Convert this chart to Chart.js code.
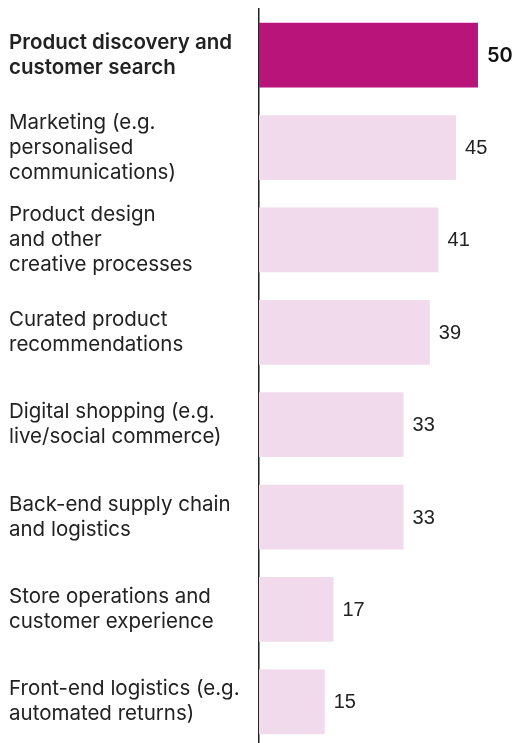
<!DOCTYPE html>
<html>
<head>
<meta charset="utf-8">
<script src="https://cdn.jsdelivr.net/npm/chart.js@4.4.1/dist/chart.umd.min.js"></script>
<style>
html,body{margin:0;padding:0;background:#fff;overflow:hidden;}
canvas{display:block;}
</style>
</head>
<body>
<canvas id="c" width="517" height="748"></canvas>
<script>
const categories = [
  ["Product discovery and", "customer search"],
  ["Marketing (e.g.", "personalised", "communications)"],
  ["Product design", "and other", "creative processes"],
  ["Curated product", "recommendations"],
  ["Digital shopping (e.g.", "live/social commerce)"],
  ["Back-end supply chain", "and logistics"],
  ["Store operations and", "customer experience"],
  ["Front-end logistics (e.g.", "automated returns)"]
];
const values = [50, 45, 41, 39, 33, 33, 17, 15];
const highlightIndex = 0;

const HIGHLIGHT = '#B8147A';
const LIGHT = '#F0DAEC';
const TEXT = '#222222';

const valueLabels = {
  id: 'valueLabels',
  afterDatasetsDraw(chart) {
    const ctx = chart.ctx;
    const meta = chart.getDatasetMeta(0);
    ctx.save();
    ctx.textBaseline = 'middle';
    ctx.textAlign = 'left';
    meta.data.forEach((bar, i) => {
      if (i === highlightIndex) {
        ctx.font = '600 20px Inter, "Open Sans", sans-serif';
        ctx.fillStyle = '#111';
      } else {
        ctx.font = '20px "Liberation Sans", Arial, sans-serif';
        ctx.fillStyle = TEXT;
      }
      ctx.fillText(String(values[i]), bar.x + 9, bar.y + 1);
    });
    ctx.restore();
  }
};

new Chart(document.getElementById('c'), {
  type: 'bar',
  data: {
    labels: categories,
    datasets: [{
      data: values,
      backgroundColor: values.map((v, i) => i === highlightIndex ? HIGHLIGHT : LIGHT),
      borderWidth: 0,
      barPercentage: 0.70,
      categoryPercentage: 1.0
    }]
  },
  options: {
    indexAxis: 'y',
    responsive: false,
    animation: false,
    devicePixelRatio: 1,
    layout: { padding: { left: 9, right: 4, top: 9, bottom: 0 } },
    plugins: { legend: { display: false }, tooltip: { enabled: false } },
    scales: {
      x: {
        display: false,
        min: 0,
        max: 58
      },
      y: {
        afterFit(scale) { scale.width = 250; scale.paddingTop = 0; scale.paddingBottom = 0; },
        grid: { display: false, drawTicks: false },
        border: { display: true, color: '#222', width: 1.5 },
        ticks: {
          crossAlign: 'far',
          padding: 0,
          color: TEXT,
          font: (ctx) => ctx.index === highlightIndex
            ? { family: 'Inter, "Open Sans", sans-serif', size: 20.5, weight: '600', lineHeight: 1.25 }
            : { family: 'Inter, "Open Sans", sans-serif', size: 20.5, weight: 'normal', lineHeight: 1.22 }
        }
      }
    }
  },
  plugins: [valueLabels]
});
</script>
</body>
</html>
